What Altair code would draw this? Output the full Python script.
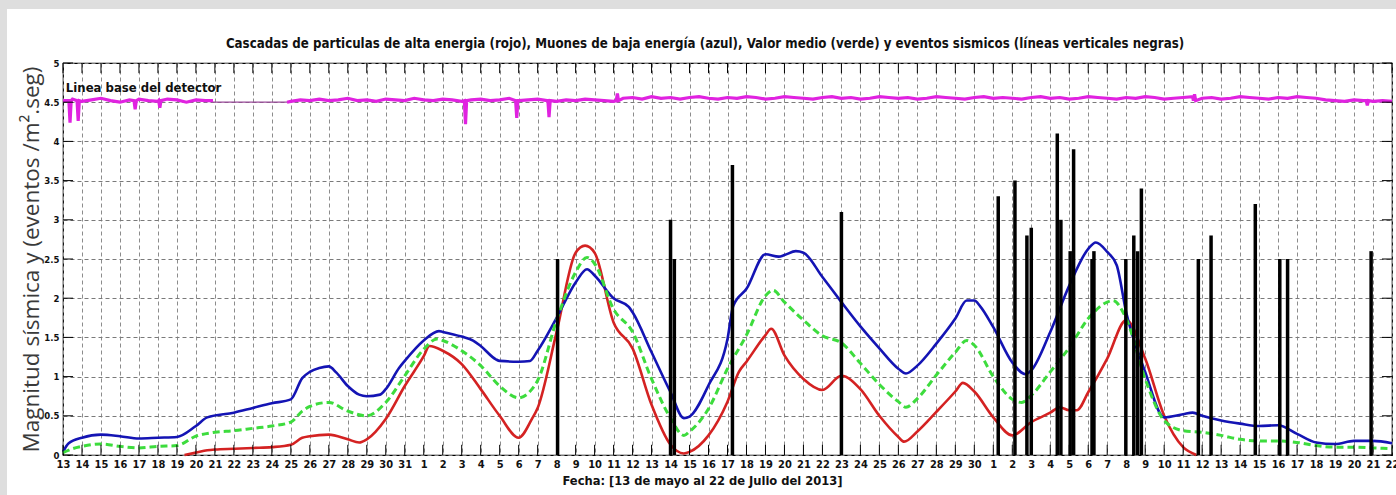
import altair as alt
import pandas as pd
import numpy as np

# ---------------- data ----------------
day_labels = [str(d) for d in range(13, 32)] + [str(d) for d in range(1, 31)] + [str(d) for d in range(1, 23)]
y_ticks = [0, 0.5, 1, 1.5, 2, 2.5, 3, 3.5, 4, 4.5, 5]

title_text = ("Cascadas de particulas de alta energia (rojo), Muones de baja energía (azul), "
              "Valor medio (verde) y eventos sismicos (líneas verticales negras)")
x_title = "Fecha: [13 de mayo al 22 de Julio del 2013]"
y_title = "Magnitud sísmica y (eventos /m².seg)"
baseline_label = "Linea base del detector"

# Low-energy muons (blue)
blue_x = [0, 0.3, 1, 2, 3, 4, 5, 6, 7, 7.6, 9, 10, 11, 12, 12.6, 13, 13.5, 14, 14.4, 15, 15.6, 16, 16.7, 17,
          17.7, 18, 19, 19.8, 20, 21, 21.6, 22, 22.8, 23, 24, 24.6, 25, 26, 27, 27.6, 28, 29, 29.8, 30, 31,
          32, 32.7, 33, 34, 35, 35.3, 36, 37, 37.7, 38, 38.6, 39, 40, 41, 42, 43, 44, 44.4, 45, 46, 47, 47.6,
          48, 48.3, 49, 50, 50.7, 51, 52, 53, 54, 54.4, 55, 55.5, 56, 57, 58, 59, 59.5, 60, 61, 62, 63, 64,
          65, 66, 67, 68, 69, 70]
blue_y = [0.04, 0.15, 0.22, 0.26, 0.24, 0.21, 0.22, 0.23, 0.37, 0.48, 0.54, 0.60, 0.66, 0.71, 0.98, 1.06,
          1.11, 1.13, 1.05, 0.88, 0.77, 0.75, 0.77, 0.84, 1.11, 1.20, 1.46, 1.58, 1.57, 1.51, 1.46, 1.39,
          1.22, 1.20, 1.19, 1.20, 1.33, 1.75, 2.20, 2.37, 2.29, 2.00, 1.89, 1.82, 1.31, 0.80, 0.47, 0.49,
          0.89, 1.48, 1.90, 2.12, 2.56, 2.53, 2.55, 2.60, 2.58, 2.27, 1.95, 1.64, 1.36, 1.10, 1.04, 1.14,
          1.42, 1.74, 1.97, 1.97, 1.90, 1.63, 1.18, 1.03, 1.08, 1.57, 2.16, 2.63, 2.71, 2.59, 2.42, 1.82,
          1.06, 0.48, 0.52, 0.54, 0.50, 0.44, 0.40, 0.37, 0.38, 0.27, 0.16, 0.14, 0.18, 0.18, 0.15]

# High-energy cascades (red)
red_x = [6.4, 7, 7.6, 8, 9, 10, 11, 12, 12.6, 13, 14, 15, 15.6, 16, 17, 18, 19, 19.3, 20, 21, 22, 23, 24,
         24.7, 25, 26, 27, 27.5, 28, 29, 30, 31, 32, 32.7, 33, 34, 35, 35.6, 36, 37, 37.3, 38, 39, 40, 41,
         42, 43, 44, 44.3, 45, 46, 47, 47.4, 48, 49, 50, 51, 52, 52.5, 53, 53.4, 54, 55, 56, 57, 58, 59, 59.7]
red_y = [0.0, 0.03, 0.06, 0.07, 0.08, 0.09, 0.10, 0.13, 0.22, 0.24, 0.26, 0.20, 0.16, 0.20, 0.46, 0.88,
         1.26, 1.39, 1.33, 1.16, 0.84, 0.50, 0.22, 0.46, 0.60, 1.57, 2.58, 2.67, 2.58, 1.69, 1.36, 0.64,
         0.13, 0.02, 0.04, 0.25, 0.68, 1.06, 1.19, 1.53, 1.61, 1.27, 0.97, 0.83, 1.01, 0.84, 0.50, 0.23,
         0.17, 0.30, 0.55, 0.81, 0.92, 0.81, 0.48, 0.25, 0.42, 0.54, 0.61, 0.57, 0.57, 0.80, 1.23, 1.72,
         1.23, 0.50, 0.10, 0.0]

# Mean value (green, dashed)
green_x = [0, 0.5, 1, 2, 3, 4, 5, 6, 7, 8, 9, 10, 11, 12, 12.6, 13, 14, 15, 16, 17, 18, 19, 19.7, 20, 21,
           22, 23, 24, 24.7, 25, 26, 27, 27.6, 28, 29, 30, 31, 32, 32.7, 33, 34, 35, 36, 37, 37.4, 38, 39,
           40, 41, 42, 43, 44, 44.4, 45, 46, 47, 47.6, 48, 49, 50, 50.5, 51, 52, 53, 54, 55, 55.3, 56, 57,
           58, 59, 60, 61, 62, 63, 64, 65, 66, 67, 68, 69, 70]
green_y = [0.03, 0.08, 0.11, 0.14, 0.11, 0.09, 0.11, 0.12, 0.24, 0.29, 0.31, 0.34, 0.37, 0.42, 0.56, 0.62,
           0.67, 0.56, 0.50, 0.67, 1.01, 1.35, 1.48, 1.46, 1.33, 1.14, 0.88, 0.73, 0.84, 0.95, 1.72, 2.33,
           2.52, 2.44, 1.86, 1.57, 0.97, 0.47, 0.25, 0.30, 0.59, 1.10, 1.53, 2.03, 2.10, 1.95, 1.72, 1.52,
           1.43, 1.17, 0.90, 0.68, 0.61, 0.72, 1.02, 1.31, 1.46, 1.40, 1.00, 0.71, 0.67, 0.76, 1.06, 1.37,
           1.74, 1.95, 1.97, 1.74, 0.97, 0.44, 0.31, 0.29, 0.25, 0.20, 0.18, 0.18, 0.16, 0.12, 0.10, 0.10,
           0.09, 0.08]

# Seismic events (black vertical bars): day position, magnitude
quake_x = [26.05, 32.0, 32.2, 35.26, 41.0, 49.26, 50.14, 50.77, 51.0, 52.37, 52.56, 53.05, 53.23, 54.2,
           54.3, 55.98, 56.4, 56.6, 56.8, 59.8, 60.47, 62.8, 64.09, 64.5, 68.9]
quake_m = [2.5, 3.0, 2.5, 3.7, 3.1, 3.3, 3.5, 2.8, 2.9, 4.1, 3.0, 2.6, 3.9, 2.5, 2.6, 2.5, 2.8, 2.6, 3.4,
           2.5, 2.8, 3.2, 2.5, 2.5, 2.6]

# Detector baseline (magenta)
mag1_start, mag_step = 0.0, 0.5
mag1_vals = [4.52, 4.54, 4.51, 4.53, 4.55, 4.52, 4.50, 4.53, 4.54, 4.52, 4.51, 4.54, 4.53, 4.50, 4.53, 4.52]
mag1_end = (7.9, 4.52)
mag1_dips = [(0.37, 4.24), (0.80, 4.26), (3.8, 4.41), (5.1, 4.43)]
gap_x = [7.9, 11.8]
gap_y = [4.50, 4.50]
mag2_start = 12.0
mag2_vals = [4.51, 4.53, 4.52, 4.54, 4.52, 4.53, 4.55, 4.52, 4.53, 4.51,
             4.54, 4.53, 4.52, 4.55, 4.53, 4.52, 4.54, 4.53, 4.51, 4.53,
             4.54, 4.52, 4.53, 4.55, 4.52, 4.53, 4.54, 4.52, 4.51, 4.53,
             4.52, 4.54, 4.53, 4.52, 4.51,
             4.55, 4.56, 4.54, 4.57, 4.55, 4.56, 4.54, 4.56, 4.57, 4.55,
             4.54, 4.56, 4.55, 4.57, 4.56, 4.54, 4.55, 4.57, 4.56, 4.55,
             4.54, 4.56, 4.57, 4.55, 4.56, 4.54, 4.55, 4.57, 4.56, 4.55,
             4.56, 4.54, 4.55, 4.57, 4.56, 4.55, 4.54, 4.56, 4.57, 4.55,
             4.56, 4.55, 4.54, 4.56, 4.57, 4.55, 4.56, 4.54, 4.55, 4.57,
             4.56, 4.55, 4.54, 4.56, 4.55, 4.57, 4.56, 4.54, 4.55, 4.56,
             4.57, 4.55, 4.56, 4.54, 4.55, 4.57, 4.56, 4.55, 4.54, 4.56,
             4.55, 4.57, 4.56, 4.55, 4.53, 4.52, 4.51, 4.53, 4.52, 4.51,
             4.52, 4.51]
mag2_dips = [(21.2, 4.22), (23.9, 4.30), (25.6, 4.31), (29.2, 4.61), (59.6, 4.60), (68.7, 4.46)]

# ---------------- build tables ----------------
def build_mag(start, vals, dips, extra):
    pts = [(start + i * mag_step, v) for i, v in enumerate(vals)]
    for d, v in dips:
        pts += [(d - 0.06, 4.52), (d, v), (d + 0.06, 4.52)]
    pts += extra
    pts.sort()
    return pd.DataFrame(pts, columns=["day", "val"])

mag1 = build_mag(mag1_start, mag1_vals, mag1_dips, [mag1_end])
mag1["seg"] = "a"
mag2 = build_mag(mag2_start, mag2_vals, mag2_dips, [(11.8, 4.50)])
mag2["seg"] = "b"
mag_df = pd.concat([mag1, mag2], ignore_index=True)
gap_df = pd.DataFrame({"day": gap_x, "val": gap_y})

blue_df = pd.DataFrame({"day": blue_x, "val": blue_y})
red_df = pd.DataFrame({"day": red_x, "val": red_y})
green_df = pd.DataFrame({"day": green_x, "val": green_y})
quake_df = pd.DataFrame({"day": quake_x, "mag": quake_m, "zero": 0.0})

n_days = len(day_labels) - 1
xt_len = 0.13   # tick length in y units
yt_len = 0.53   # tick length in day units
xtick_df = pd.DataFrame({"day": list(range(n_days + 1))})
xtick_df["b0"], xtick_df["b1"] = 0.0, xt_len
xtick_df["t0"], xtick_df["t1"] = 5 - xt_len, 5.0
ytick_df = pd.DataFrame({"val": y_ticks})
ytick_df["l0"], ytick_df["l1"] = 0.0, yt_len
ytick_df["r0"], ytick_df["r1"] = n_days - yt_len, float(n_days)

label_df = pd.DataFrame({"day": [0.15], "val": [4.68], "text": [baseline_label]})
title_df = pd.DataFrame({"text": [title_text]})

# ---------------- encodings ----------------
NARROW = "Liberation Sans Narrow, Arial Narrow, DejaVu Sans Condensed, sans-serif"
label_arr = "[" + ",".join("'%s'" % s for s in day_labels) + "]"

xscale = alt.Scale(domain=[0, n_days], nice=False, zero=False)
yscale = alt.Scale(domain=[0, 5], nice=False, zero=False)
xaxis = alt.Axis(values=list(range(n_days + 1)), labelExpr=label_arr + "[datum.value]",
                 ticks=False, domain=False, grid=True, gridDash=[4, 3], gridColor="#8c8c8c",
                 labelFont=NARROW, labelFontSize=11, labelFontWeight="bold", labelColor="#111",
                 labelPadding=3, labelOverlap=False, labelFlush=False,
                 title=x_title, titleFont=NARROW, titleFontSize=12.8, titleFontWeight="bold",
                 titleColor="#111", titlePadding=5, titleX=639)
yaxis = alt.Axis(values=y_ticks, format="~g", ticks=False, domain=False, grid=True,
                 gridDash=[4, 3], gridColor="#7a7a7a",
                 labelFont=NARROW, labelFontSize=9.5, labelFontWeight="bold", labelColor="#111",
                 labelPadding=4, labelFlush=False,
                 title=y_title, titleFont="Open Sans", titleFontSize=22.5, titleFontWeight="normal",
                 titleColor="#3a3a3a", titleX=-20, titleY=196)

def X(field="day"):
    return alt.X(field, type="quantitative", scale=xscale, axis=xaxis)

def Y(field="val"):
    return alt.Y(field, type="quantitative", scale=yscale, axis=yaxis)

one = pd.DataFrame({"a": [0]})
# light-gray frame strips (top and left) around the white panel
strip_top = alt.Chart(one).mark_rect(color="#dedede").encode(
    x=alt.value(-63), x2=alt.value(1333), y=alt.value(-63), y2=alt.value(-54))
strip_left = alt.Chart(one).mark_rect(color="#dedede").encode(
    x=alt.value(-63), x2=alt.value(-56), y=alt.value(-63), y2=alt.value(432))

title_mark = alt.Chart(title_df).mark_text(align="center", baseline="middle", font=NARROW,
                                           fontSize=13.2, fontWeight="bold", color="#111").encode(
    x=alt.value(642), y=alt.value(-19), text="text:N")

mag_line = alt.Chart(mag_df).mark_line(color="#e022e0", strokeWidth=3.2).encode(
    x=X(), y=Y(), detail="seg:N", order="day:Q")
gap_line = alt.Chart(gap_df).mark_line(color="#9a4a9a", strokeWidth=1.3).encode(x=X(), y=Y())

red_line = alt.Chart(red_df).mark_line(color="#d42222", strokeWidth=2.6, interpolate="monotone").encode(
    x=X(), y=Y())
blue_line = alt.Chart(blue_df).mark_line(color="#1414b4", strokeWidth=2.6, interpolate="monotone").encode(
    x=X(), y=Y())
green_line = alt.Chart(green_df).mark_line(color="#3ddc3d", strokeWidth=3, strokeDash=[7, 4],
                                           interpolate="monotone").encode(x=X(), y=Y())

quakes = alt.Chart(quake_df).mark_rule(color="black", strokeWidth=3.5).encode(
    x=X(), y=Y("zero"), y2="mag")

xt_bot = alt.Chart(xtick_df).mark_rule(color="black", strokeWidth=1).encode(x=X(), y=Y("b0"), y2="b1")
xt_top = alt.Chart(xtick_df).mark_rule(color="black", strokeWidth=1).encode(x=X(), y=Y("t0"), y2="t1")
yt_left = alt.Chart(ytick_df).mark_rule(color="black", strokeWidth=1).encode(x=X("l0"), x2="l1", y=Y())
yt_right = alt.Chart(ytick_df).mark_rule(color="black", strokeWidth=1).encode(x=X("r0"), x2="r1", y=Y())

base_text = alt.Chart(label_df).mark_text(align="left", baseline="middle", font=NARROW, fontSize=13,
                                          fontWeight="bold", color="#111").encode(
    x=X(), y=Y(), text="text:N")

chart = alt.layer(
    strip_top, strip_left, title_mark, mag_line, gap_line, red_line, blue_line, green_line, quakes,
    xt_bot, xt_top, yt_left, yt_right, base_text
).properties(
    width=1329, height=392,
    autosize=alt.AutoSizeParams(type="none"),
    padding={"left": 63, "top": 63, "right": 4, "bottom": 40},
    background="white",
).configure_view(stroke="black", strokeWidth=1.2)

chart.save("out.html", embed_options={"renderer": "svg", "actions": False})
